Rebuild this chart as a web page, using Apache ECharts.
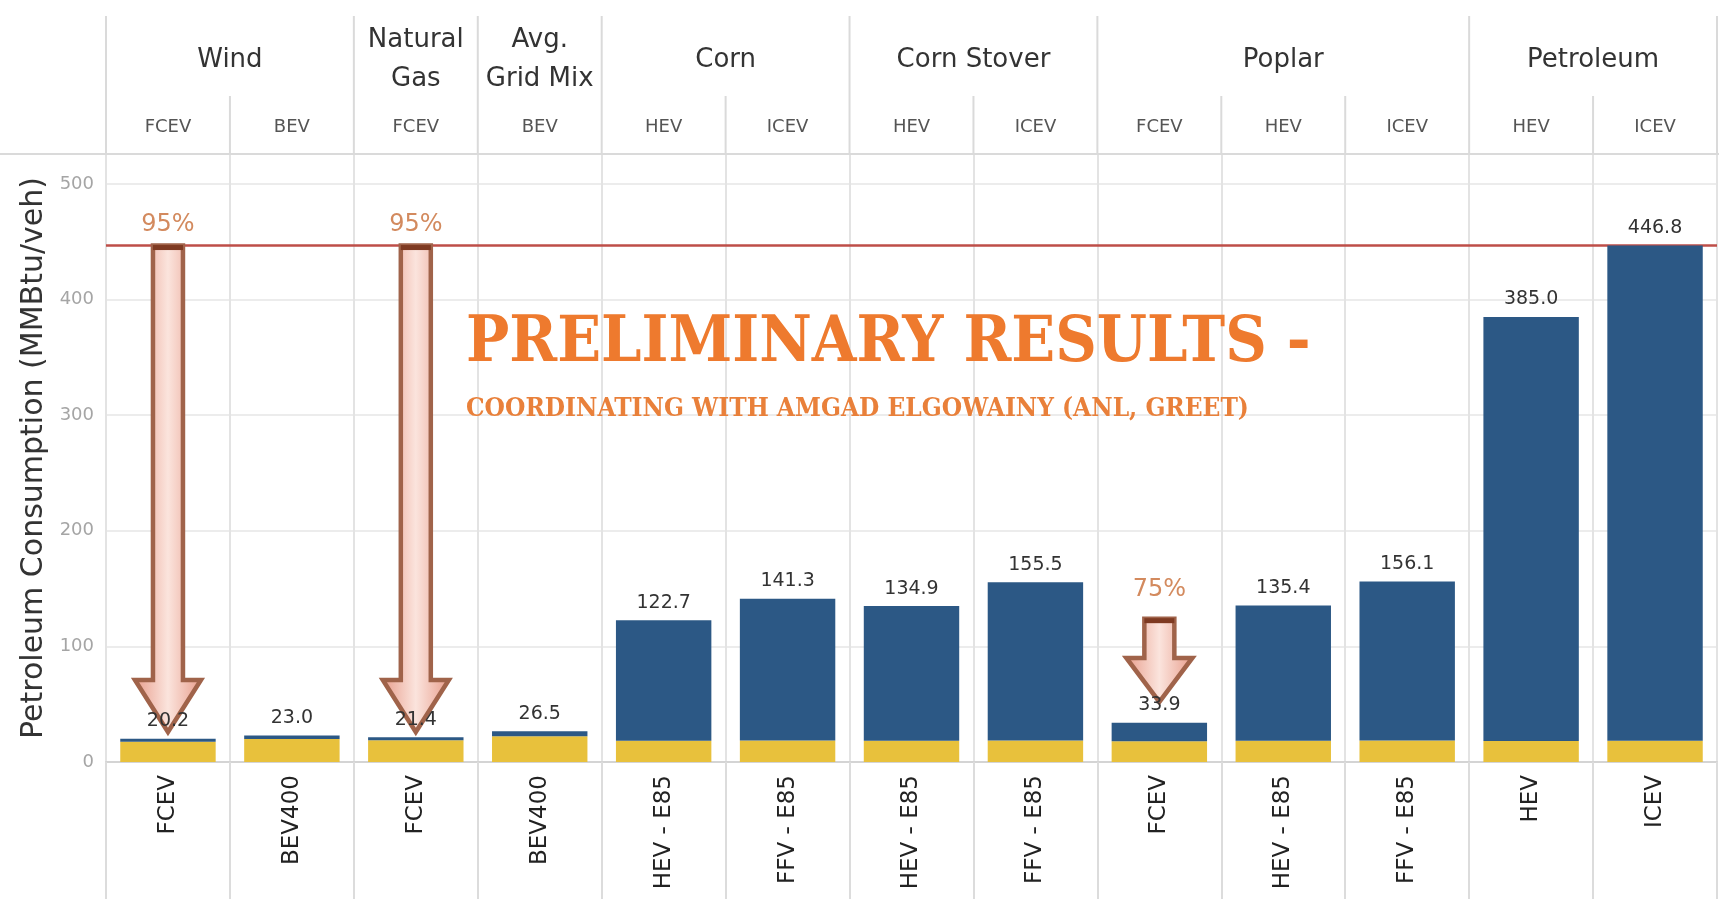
<!DOCTYPE html>
<html><head><meta charset="utf-8">
<script src="https://cdn.jsdelivr.net/npm/echarts@6/dist/echarts.min.js"></script>
<style>html,body{margin:0;padding:0;background:#fff}#c{width:1719px;height:899px}</style>
</head><body><div id="c"></div>
<script>
// ---- data ----
const categories = ['FCEV','BEV400','FCEV','BEV400','HEV - E85','FFV - E85','HEV - E85','FFV - E85','FCEV','HEV - E85','FFV - E85','HEV','ICEV'];
const headerSub = ['FCEV','BEV','FCEV','BEV','HEV','ICEV','HEV','ICEV','FCEV','HEV','ICEV','HEV','ICEV'];
const groupNames = ['Wind','Natural\nGas','Avg.\nGrid Mix','Corn','Corn Stover','Poplar','Petroleum'];
const groupSpans = [2,1,1,2,2,3,2];
const totals = [20.2, 23.0, 21.4, 26.5, 122.7, 141.3, 134.9, 155.5, 33.9, 135.4, 156.1, 385.0, 446.8];
const yellowPart = [17.6, 19.8, 18.8, 22.3, 18.4, 18.6, 18.4, 18.6, 18.0, 18.4, 18.6, 18.2, 18.4];
const bluePart = [2.6, 3.2, 2.6, 4.2, 104.3, 122.7, 116.5, 136.9, 15.9, 117.0, 137.5, 366.8, 428.4];
const yTicks = [0, 100, 200, 300, 400, 500];
const refLine = 446.8;
// arrows: [category index, top value, head-start value, tip value, label value]
const arrowCols = [0, 2, 8];
const arrowTop = [446.8, 446.8, 124];
const arrowHead = [71, 71, 90];
const arrowTip = [26, 26, 52];
const arrowLabelAt = [465, 465, 149];
const arrowPct = ['95%', '95%', '75%'];

const FONT = 'DejaVu Sans';
const chart = echarts.init(document.getElementById('c'));

const arrowData = arrowCols.map((c, i) => [c, arrowTop[i], arrowHead[i], arrowTip[i], arrowLabelAt[i]]);

chart.setOption({
  animation: false,
  backgroundColor: '#fff',
  grid: { left: 106, right: 2, top: 154, bottom: 137, outerBoundsMode: 'none', containLabel: false },
  xAxis: {
    type: 'category', data: categories,
    axisLine: { lineStyle: { color: '#D4D4D4', width: 2 } },
    axisTick: { show: true, interval: 0, length: 140, lineStyle: { color: '#DCDCDC', width: 2 } },
    axisLabel: { rotate: 90, interval: 0, fontSize: 23, color: '#222', fontFamily: FONT, margin: 13 },
    splitLine: { show: true, interval: 0, lineStyle: { color: '#E3E3E3', width: 2 } }
  },
  yAxis: {
    type: 'value', min: 0, max: 526, interval: 100,
    name: 'Petroleum Consumption (MMBtu/veh)', nameLocation: 'middle', nameGap: 57,
    nameTextStyle: { fontSize: 30, color: '#333', fontFamily: FONT },
    axisLine: { show: false }, axisTick: { show: false },
    axisLabel: { color: '#A5A5A5', fontSize: 18, fontFamily: FONT, margin: 12,
      formatter: v => yTicks.indexOf(v) >= 0 ? String(v) : '' },
    splitLine: { lineStyle: { color: '#ECECEC', width: 2 } }
  },
  series: [
    { type: 'bar', stack: 's', data: yellowPart, barWidth: '77%', itemStyle: { color: '#E8C13C' }, z: 12 },
    { type: 'bar', stack: 's', data: bluePart, itemStyle: { color: '#2C5885' }, z: 12,
      label: { show: true, position: 'top', distance: 8, color: '#333', fontSize: 19, fontFamily: FONT,
        formatter: p => totals[p.dataIndex].toFixed(1) },
      markLine: { silent: true, symbol: 'none', label: { show: false },
        lineStyle: { color: '#BE4E48', width: 2.5, type: 'solid' },
        data: [{ yAxis: refLine }] }
    },
    { type: 'custom', data: arrowData, z: 10,
      encode: { x: 0, y: [1, 2, 3, 4] },
      renderItem: (params, api) => {
        const c = api.value(0);
        const x = api.coord([c, 0])[0];
        const yTop = api.coord([c, api.value(1)])[1];
        const yHead = api.coord([c, api.value(2)])[1];
        const yTip = api.coord([c, api.value(3)])[1];
        const yLab = api.coord([c, api.value(4)])[1];
        const sw = 15, hw = 33;
        const pts = [[x - sw, yTop], [x + sw, yTop], [x + sw, yHead], [x + hw, yHead], [x, yTip], [x - hw, yHead], [x - sw, yHead]];
        return { type: 'group', children: [
          { type: 'polygon', shape: { points: pts },
            style: { fill: new echarts.graphic.LinearGradient(0, 0, 1, 0, [
                { offset: 0, color: '#E79A88' }, { offset: 0.5, color: '#FBE4DD' }, { offset: 1, color: '#E79A88' }]),
              stroke: '#A0634A', lineWidth: 4.5, lineJoin: 'miter' } },
          { type: 'line', shape: { x1: x - sw, y1: yTop + 2, x2: x + sw, y2: yTop + 2 }, style: { stroke: '#7E3A22', lineWidth: 5 } },
          { type: 'text', x: x, y: yLab, style: { text: arrowPct[params.dataIndex], fill: '#D38A5E',
              font: '24px "' + FONT + '"', align: 'center', verticalAlign: 'middle' } }
        ] };
      }
    }
  ]
});

// ---- header & annotations built from axis pixel positions ----
const c0 = chart.convertToPixel({ xAxisIndex: 0 }, 0);
const c1 = chart.convertToPixel({ xAxisIndex: 0 }, 1);
const band = c1 - c0;
const bx = i => c0 - band / 2 + i * band;
const gridTop = 154;
const graphics = [];
const lineStyle = { stroke: '#DADADA', lineWidth: 2 };
let start = 0;
const groupBounds = [0];
groupSpans.forEach(s => { start += s; groupBounds.push(start); });
groupBounds.forEach(b => graphics.push({ type: 'line', shape: { x1: bx(b), y1: 16, x2: bx(b), y2: gridTop }, style: lineStyle, silent: true }));
for (let i = 1; i < categories.length; i++) {
  if (groupBounds.indexOf(i) < 0) graphics.push({ type: 'line', shape: { x1: bx(i), y1: 96, x2: bx(i), y2: gridTop }, style: lineStyle, silent: true });
}
groupNames.forEach((g, k) => {
  const cx = (bx(groupBounds[k]) + bx(groupBounds[k + 1])) / 2;
  graphics.push({ type: 'text', x: cx, y: 60, silent: true,
    style: { text: g, font: '26px "' + FONT + '"', fill: '#333', align: 'center', verticalAlign: 'middle', lineHeight: 39 } });
});
headerSub.forEach((s, i) => {
  graphics.push({ type: 'text', x: bx(i) + band / 2, y: 127, silent: true,
    style: { text: s, font: '18px "' + FONT + '"', fill: '#555', align: 'center', verticalAlign: 'middle' } });
});
graphics.push({ type: 'line', shape: { x1: 0, y1: gridTop, x2: 1719, y2: gridTop }, style: { stroke: '#DADADA', lineWidth: 2 }, silent: true });
graphics.push({ type: 'text', x: 466, y: 344, silent: true, z: 20,
  style: { text: 'PRELIMINARY RESULTS -', font: 'bold 64px "DejaVu Serif Condensed", "DejaVu Serif", serif', fill: '#EE7A2E', align: 'left', verticalAlign: 'middle' } });
graphics.push({ type: 'text', x: 466, y: 409, silent: true, z: 20,
  style: { text: 'COORDINATING WITH AMGAD ELGOWAINY (ANL, GREET)', font: 'bold 26px "DejaVu Serif Condensed", "DejaVu Serif", serif', fill: '#E9803A', align: 'left', verticalAlign: 'middle' } });
chart.setOption({ graphic: graphics });
</script>
</body></html>
